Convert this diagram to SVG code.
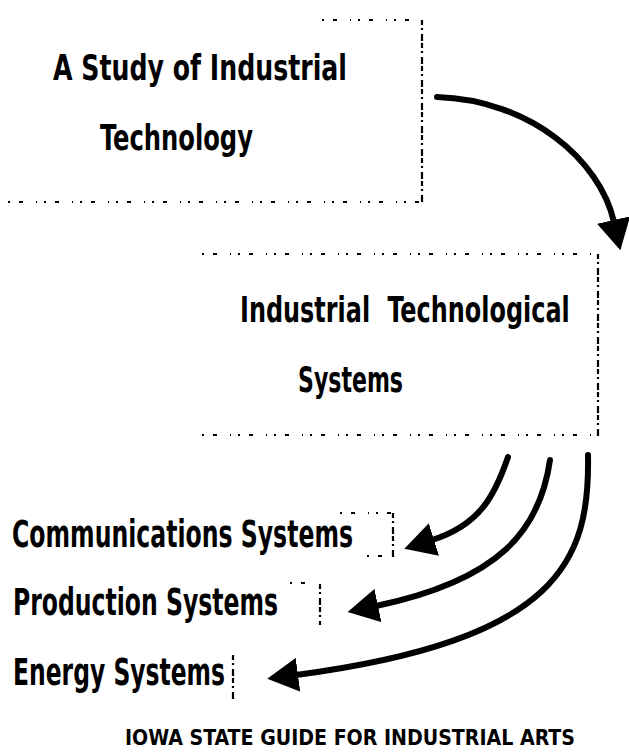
<svg xmlns="http://www.w3.org/2000/svg" width="629" height="752" viewBox="0 0 629 752">
<style>
.t{font-family:"DejaVu Sans Condensed","Liberation Sans",Arial,sans-serif;font-weight:bold;fill:#000}
.big{font-size:35px}
.lab{font-size:37px}
.foot{font-size:21px}
.dot{fill:none;stroke:#000;stroke-width:2;stroke-dasharray:2 9 4 13 1 7}
.edge{fill:none;stroke:#000;stroke-width:2.2;stroke-dasharray:5 3 2 4 7 2}
.arr{fill:none;stroke:#000;stroke-width:6;stroke-linecap:round}
</style>
<defs>
<marker id="head" viewBox="0 0 31 34" refX="2" refY="17" markerWidth="31" markerHeight="34" markerUnits="userSpaceOnUse" orient="auto">
<path d="M0 0 L31 17 L0 34 Z" fill="#000"/>
</marker>
</defs>
<rect width="629" height="752" fill="#fff"/>
<g id="node-study">
<path class="dot" d="M322 20 H420"/>
<path class="edge" d="M422 20 V202"/>
<path class="dot" d="M8 202 H422"/>
<text class="t big" x="53" y="80" textLength="294" lengthAdjust="spacingAndGlyphs">A Study of Industrial</text>
<text class="t big" x="100" y="150" textLength="153" lengthAdjust="spacingAndGlyphs">Technology</text>
</g>
<g id="node-its">
<path class="dot" d="M202 254 H598"/>
<path class="edge" d="M598 254 V437"/>
<path class="dot" d="M202 435 H598"/>
<text class="t big" transform="translate(240 322) scale(0.76 1)" x="0" y="0" word-spacing="12">Industrial Technological</text>
<text class="t big" x="298" y="392" textLength="105" lengthAdjust="spacingAndGlyphs">Systems</text>
</g>
<g id="node-comm">
<path class="dot" d="M340 513 H393"/>
<path class="edge" d="M393 513 V557"/>
<path class="dot" d="M367 556 H393"/>
<text class="t lab" x="12" y="547" textLength="341" lengthAdjust="spacingAndGlyphs">Communications Systems</text>
</g>
<g id="node-prod">
<path class="edge" d="M320 584 V625"/>
<path class="dot" d="M290 583 H318"/>
<text class="t lab" x="13" y="615" textLength="265" lengthAdjust="spacingAndGlyphs">Production Systems</text>
</g>
<g id="node-energy">
<path class="edge" d="M233 655 V700"/>
<text class="t lab" x="13" y="685" textLength="212" lengthAdjust="spacingAndGlyphs">Energy Systems</text>
</g>
<g id="connectors">
<path class="arr" d="M437 97 C530 100 600 160 614 222" marker-end="url(#head)"/>
<path class="arr" d="M508 457 C495 495 480 525 432 540" marker-end="url(#head)"/>
<path class="arr" d="M550 460 C540 530 500 580 376 606" marker-end="url(#head)"/>
<path class="arr" d="M588 455 C590 560 560 640 296 675" marker-end="url(#head)"/>
</g>
<g id="footer">
<text class="t foot" x="125" y="745" textLength="450" lengthAdjust="spacingAndGlyphs">IOWA STATE GUIDE FOR INDUSTRIAL ARTS</text>
</g>
</svg>
